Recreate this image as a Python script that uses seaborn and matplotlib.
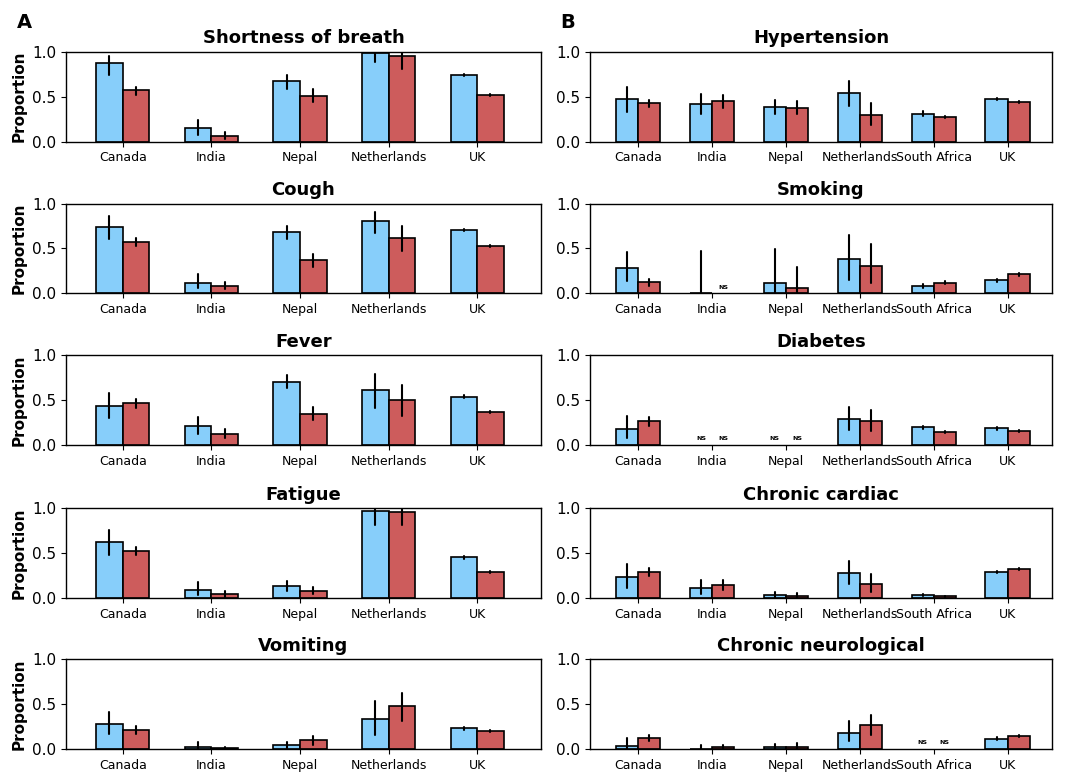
import numpy as np
import pandas as pd
import matplotlib
matplotlib.use("Agg")
import matplotlib.pyplot as plt
import seaborn as sns

nan = np.nan

countries_a = ["Canada", "India", "Nepal", "Netherlands", "UK"]
countries_b = ["Canada", "India", "Nepal", "Netherlands", "South Africa", "UK"]
cohorts = ["Cohort 1", "Cohort 2"]
colors = ["lightskyblue", "indianred"]

# ---- Panel A: symptoms (estimate, lower bound, upper bound) ----
breath_c1 = [0.877, 0.149, 0.672, 0.981, 0.743]
breath_c1_lo = [0.739, 0.071, 0.590, 0.880, 0.728]
breath_c1_hi = [0.955, 0.243, 0.739, 1.000, 0.757]
breath_c2 = [0.571, 0.067, 0.511, 0.951, 0.519]
breath_c2_lo = [0.522, 0.030, 0.437, 0.813, 0.507]
breath_c2_hi = [0.608, 0.104, 0.586, 1.000, 0.526]

cough_c1 = [0.744, 0.122, 0.681, 0.811, 0.711]
cough_c1_lo = [0.607, 0.056, 0.604, 0.674, 0.700]
cough_c1_hi = [0.859, 0.215, 0.748, 0.911, 0.722]
cough_c2 = [0.574, 0.085, 0.370, 0.622, 0.526]
cough_c2_lo = [0.526, 0.048, 0.296, 0.474, 0.515]
cough_c2_hi = [0.615, 0.130, 0.444, 0.748, 0.537]

fever_c1 = [0.441, 0.213, 0.706, 0.610, 0.540]
fever_c1_lo = [0.305, 0.129, 0.632, 0.412, 0.522]
fever_c1_hi = [0.581, 0.320, 0.776, 0.787, 0.555]
fever_c2 = [0.467, 0.125, 0.353, 0.500, 0.375]
fever_c2_lo = [0.419, 0.077, 0.283, 0.327, 0.360]
fever_c2_hi = [0.511, 0.180, 0.426, 0.669, 0.386]

fatigue_c1 = [0.619, 0.093, 0.134, 0.970, 0.451]
fatigue_c1_lo = [0.474, 0.037, 0.082, 0.806, 0.437]
fatigue_c1_hi = [0.754, 0.179, 0.194, 1.000, 0.466]
fatigue_c2 = [0.522, 0.045, 0.082, 0.951, 0.291]
fatigue_c2_lo = [0.474, 0.015, 0.045, 0.806, 0.280]
fatigue_c2_hi = [0.567, 0.078, 0.123, 1.000, 0.302]

vomit_c1 = [0.285, 0.026, 0.044, 0.333, 0.233]
vomit_c1_lo = [0.167, 0.000, 0.011, 0.163, 0.219]
vomit_c1_hi = [0.415, 0.085, 0.081, 0.533, 0.248]
vomit_c2 = [0.215, 0.011, 0.100, 0.481, 0.204]
vomit_c2_lo = [0.174, 0.000, 0.052, 0.319, 0.193]
vomit_c2_hi = [0.256, 0.026, 0.152, 0.630, 0.215]

# ---- Panel B: comorbidities (NaN = not sampled, marked "NS") ----
hyper_c1 = [0.470, 0.418, 0.384, 0.537, 0.310, 0.474]
hyper_c1_lo = [0.328, 0.306, 0.306, 0.396, 0.284, 0.463]
hyper_c1_hi = [0.608, 0.534, 0.459, 0.672, 0.336, 0.485]
hyper_c2 = [0.425, 0.448, 0.377, 0.302, 0.276, 0.440]
hyper_c2_lo = [0.381, 0.373, 0.306, 0.190, 0.265, 0.429]
hyper_c2_hi = [0.466, 0.515, 0.451, 0.425, 0.291, 0.455]

smoke_c1 = [0.279, 0.000, 0.112, 0.379, 0.082, 0.145]
smoke_c1_lo = [0.138, 0.000, 0.000, 0.149, 0.056, 0.130]
smoke_c1_hi = [0.461, 0.468, 0.491, 0.654, 0.108, 0.160]
smoke_c2 = [0.123, nan, 0.063, 0.305, 0.119, 0.212]
smoke_c2_lo = [0.086, nan, 0.000, 0.112, 0.100, 0.197]
smoke_c2_hi = [0.160, nan, 0.294, 0.550, 0.138, 0.227]

diab_c1 = [0.181, nan, nan, 0.288, 0.199, 0.188]
diab_c1_lo = [0.077, nan, nan, 0.170, 0.177, 0.173]
diab_c1_hi = [0.321, nan, nan, 0.424, 0.218, 0.203]
diab_c2 = [0.266, nan, nan, 0.266, 0.151, 0.162]
diab_c2_lo = [0.218, nan, nan, 0.162, 0.140, 0.151]
diab_c2_hi = [0.310, nan, nan, 0.391, 0.162, 0.173]

cardiac_c1 = [0.230, 0.115, 0.033, 0.275, 0.030, 0.294]
cardiac_c1_lo = [0.112, 0.048, 0.004, 0.152, 0.022, 0.283]
cardiac_c1_hi = [0.383, 0.204, 0.071, 0.409, 0.040, 0.305]
cardiac_c2 = [0.290, 0.145, 0.026, 0.156, 0.022, 0.320]
cardiac_c2_lo = [0.249, 0.093, 0.000, 0.067, 0.015, 0.309]
cardiac_c2_hi = [0.335, 0.197, 0.060, 0.264, 0.026, 0.335]

neuro_c1 = [0.037, 0.003, 0.022, 0.185, nan, 0.119]
neuro_c1_lo = [0.000, 0.000, 0.000, 0.089, nan, 0.104]
neuro_c1_hi = [0.126, 0.044, 0.056, 0.311, nan, 0.133]
neuro_c2 = [0.126, 0.022, 0.030, 0.267, nan, 0.148]
neuro_c2_lo = [0.089, 0.000, 0.000, 0.156, nan, 0.137]
neuro_c2_hi = [0.163, 0.048, 0.067, 0.385, nan, 0.159]

panels_a = [
    ("Shortness of breath", (breath_c1, breath_c1_lo, breath_c1_hi), (breath_c2, breath_c2_lo, breath_c2_hi)),
    ("Cough", (cough_c1, cough_c1_lo, cough_c1_hi), (cough_c2, cough_c2_lo, cough_c2_hi)),
    ("Fever", (fever_c1, fever_c1_lo, fever_c1_hi), (fever_c2, fever_c2_lo, fever_c2_hi)),
    ("Fatigue", (fatigue_c1, fatigue_c1_lo, fatigue_c1_hi), (fatigue_c2, fatigue_c2_lo, fatigue_c2_hi)),
    ("Vomiting", (vomit_c1, vomit_c1_lo, vomit_c1_hi), (vomit_c2, vomit_c2_lo, vomit_c2_hi)),
]
panels_b = [
    ("Hypertension", (hyper_c1, hyper_c1_lo, hyper_c1_hi), (hyper_c2, hyper_c2_lo, hyper_c2_hi)),
    ("Smoking", (smoke_c1, smoke_c1_lo, smoke_c1_hi), (smoke_c2, smoke_c2_lo, smoke_c2_hi)),
    ("Diabetes", (diab_c1, diab_c1_lo, diab_c1_hi), (diab_c2, diab_c2_lo, diab_c2_hi)),
    ("Chronic cardiac", (cardiac_c1, cardiac_c1_lo, cardiac_c1_hi), (cardiac_c2, cardiac_c2_lo, cardiac_c2_hi)),
    ("Chronic neurological", (neuro_c1, neuro_c1_lo, neuro_c1_hi), (neuro_c2, neuro_c2_lo, neuro_c2_hi)),
]

BAR_WIDTH = 0.6


def long_form(countries, series):
    """Each country/cohort cell holds its lower bound, estimate and upper bound:
    the median returns the estimate, the min/max span gives the interval."""
    rows = []
    for cohort, (est, lo, hi) in zip(cohorts, series):
        for c, e, l, h in zip(countries, est, lo, hi):
            if np.isnan(e):
                continue
            for v in (l, e, h):
                rows.append({"country": c, "cohort": cohort, "value": v})
    return pd.DataFrame(rows)


def draw_panel(ax, title, countries, series, xlim, ylabel):
    df = long_form(countries, series)
    sns.barplot(
        data=df, x="country", y="value", hue="cohort",
        order=countries, hue_order=cohorts, palette=colors, saturation=1,
        estimator="median", errorbar=lambda v: (v.min(), v.max()),
        width=BAR_WIDTH, gap=0, edgecolor="black", linewidth=1.2,
        err_kws={"color": "black", "linewidth": 1.5},
        legend=False, ax=ax,
    )
    # Mark cells without data
    half = BAR_WIDTH / 4
    for k, (est, _, _) in enumerate(series):
        for i, e in enumerate(est):
            if np.isnan(e):
                ax.text(i + (-half if k == 0 else half), 0.07, "NS",
                        fontsize=4.5, fontweight="bold", ha="center", va="center")
    ax.set_ylim(0, 1)
    ax.set_xlim(*xlim)
    ax.set_yticks([0, 0.5, 1.0])
    ax.set_yticklabels(["0.0", "0.5", "1.0"])
    ax.tick_params(axis="x", labelsize=9, colors="black")
    ax.tick_params(axis="y", labelsize=11, colors="black")
    ax.set_xlabel("")
    ax.set_ylabel("Proportion" if ylabel else "", fontsize=11, fontweight="bold")
    ax.set_title(title, fontsize=13, fontweight="bold")
    for sp in ax.spines.values():
        sp.set_linewidth(1.0)
        sp.set_color("black")


sns.set_style("ticks")
plt.rcParams["font.family"] = ["DejaVu Sans"]
plt.rcParams["text.color"] = "black"
plt.rcParams["axes.labelcolor"] = "black"
plt.rcParams["xtick.color"] = "black"
plt.rcParams["ytick.color"] = "black"

W, H = 1076, 777
fig = plt.figure(figsize=(W / 100, H / 100), dpi=100)

row_tops = [51.7, 203.5, 355.3, 508.0, 659.3]
ax_h = 90.0
for r, (title, s1, s2) in enumerate(panels_a):
    top = row_tops[r]
    ax = fig.add_axes([66 / W, 1 - (top + ax_h) / H, 475 / W, ax_h / H])
    draw_panel(ax, title, countries_a, (s1, s2), (-0.64, 4.72), True)
for r, (title, s1, s2) in enumerate(panels_b):
    top = row_tops[r]
    ax = fig.add_axes([590 / W, 1 - (top + ax_h) / H, 462 / W, ax_h / H])
    draw_panel(ax, title, countries_b, (s1, s2), (-0.65, 5.6), False)

fig.text(17 / W, 1 - 28 / H, "A", fontsize=14, fontweight="bold", va="baseline")
fig.text(560 / W, 1 - 28 / H, "B", fontsize=14, fontweight="bold", va="baseline")

fig.savefig("out.png", dpi=100)
